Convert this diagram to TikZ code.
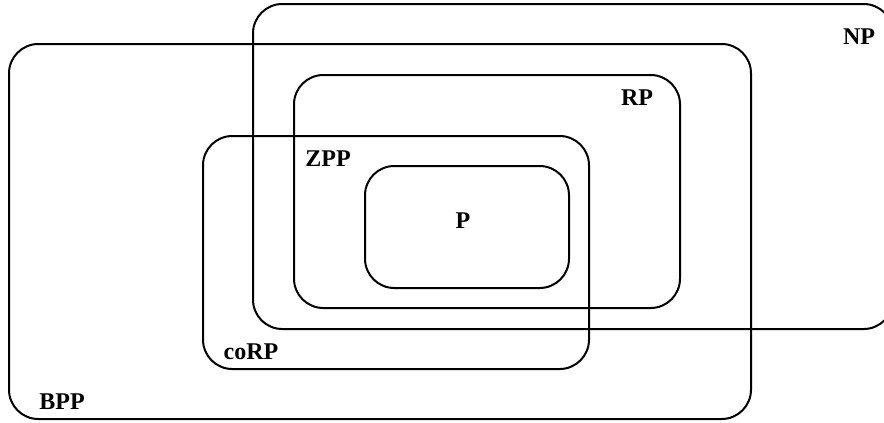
\documentclass[tikz,border=0pt]{standalone}
\usepackage{fontspec}
\setmainfont{Liberation Serif}
\begin{document}
\begin{tikzpicture}[x=0.75pt,y=-0.75pt,
  cls/.style={draw=black,line width=1.5pt,rounded corners=22pt},
  lbl/.style={font=\fontsize{18}{21}\selectfont\bfseries,inner sep=0pt}]
\useasboundingbox (0,0) rectangle (884,422);
\clip (0,0) rectangle (884,422);
\draw[cls] (253,4) rectangle (893,329);
\draw[cls] (9,44) rectangle (751,419);
\draw[cls] (294,75) rectangle (680,308);
\draw[cls] (203,136) rectangle (589,369);
\draw[cls] (365,166) rectangle (569,288);
\node[lbl] (np) at (859,37) {NP};
\node[lbl] (rp) at (637,98) {RP};
\node[lbl] (zpp) at (328,159) {ZPP};
\node[lbl] (p) at (463,221) {P};
\node[lbl] (corp) at (251,352) {coRP};
\node[lbl] (bpp) at (62,402) {BPP};
\end{tikzpicture}
\end{document}
